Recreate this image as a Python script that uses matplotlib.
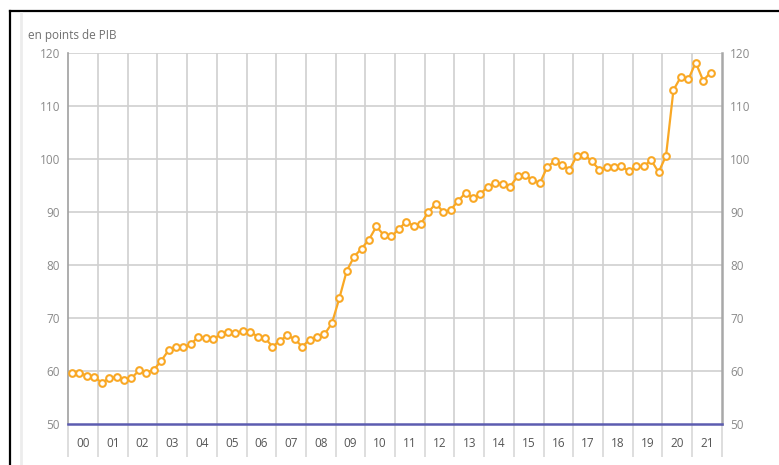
import numpy as np
import matplotlib
matplotlib.use("Agg")
import matplotlib.pyplot as plt
from matplotlib.ticker import FixedLocator

plt.rcParams["font.family"] = ["Open Sans", "DejaVu Sans"]

# ratio trimestriel, 2000T1 -> 2021T3
dette = [
    59.6, 59.6, 59.1, 58.9,
    57.8, 58.6, 58.9, 58.3,
    58.6, 60.1, 59.7, 60.2,
    61.9, 63.9, 64.6, 64.6,
    65.0, 66.5, 66.2, 66.0,
    66.9, 67.4, 67.1, 67.6,
    67.4, 66.5, 66.2, 64.6,
    65.7, 66.7, 66.0, 64.6,
    65.9, 66.5, 66.9, 69.0,
    73.7, 78.9, 81.6, 83.1,
    84.8, 87.3, 85.6, 85.4,
    86.7, 88.2, 87.4, 87.8,
    90.0, 91.6, 90.0, 90.4,
    92.1, 93.6, 92.7, 93.4,
    94.8, 95.5, 95.3, 94.8,
    96.7, 96.9, 96.1, 95.4,
    98.5, 99.6, 98.9, 98.0,
    100.6, 100.8, 99.6, 98.0,
    98.4, 98.4, 98.6, 97.7,
    98.6, 98.6, 99.8, 97.5,
    100.6, 113.0, 115.5, 115.0,
    118.2, 114.8, 116.3,
]
annees = ["00", "01", "02", "03", "04", "05", "06", "07", "08", "09", "10",
          "11", "12", "13", "14", "15", "16", "17", "18", "19", "20", "21"]
yticks = [50, 60, 70, 80, 90, 100, 110, 120]

fig = plt.figure(figsize=(7.79, 4.65), dpi=100)
ax = fig.add_axes([68.3 / 779, 1 - 424 / 465, (721.7 - 68.3) / 779, (424 - 53) / 465])

x = np.arange(len(dette)) + 0.5
ax.plot(x, dette, color="#f9a825", lw=1.6, marker="o", ms=4.8,
        mfc="white", mec="#f9a825", mew=1.5, zorder=4)

nq = 4 * len(annees)
ax.set_xlim(0, nq)
ax.set_ylim(50, 120)

# grille
bounds = np.arange(0, nq + 1, 4)
for b in bounds[1:-1]:
    ax.axvline(b, color="#d0d0d0", lw=1.2, zorder=1)
for v in yticks[1:]:
    ax.axhline(v, color="#d0d0d0", lw=1.2, zorder=1)

ax.xaxis.set_major_locator(FixedLocator(bounds[:-1] + 2))
ax.set_xticklabels(annees)
ax.xaxis.set_minor_locator(FixedLocator(bounds))
ax.tick_params(axis="x", which="major", length=0, pad=9, labelsize=8.5, labelcolor="#555555")
ax.tick_params(axis="x", which="minor", length=24, width=1.2, color="#d8d8d8")

ax.set_yticks(yticks)
ax.tick_params(axis="y", length=0, labelsize=8.5, labelcolor="#8a8a8a", pad=6,
               labelleft=True, labelright=True)

for s in ["top"]:
    ax.spines[s].set_visible(False)
ax.spines["left"].set_color("#a0a0a0")
ax.spines["left"].set_linewidth(1.2)
ax.spines["right"].set_color("#a8a8a8")
ax.spines["right"].set_linewidth(1.8)
ax.spines["bottom"].set_color("#5c5cb0")
ax.spines["bottom"].set_linewidth(1.8)
ax.spines["bottom"].set_zorder(5)

fig.text(28 / 779, 1 - 36 / 465, "en points de PIB", fontsize=8.5,
         color="#707070", va="center", ha="left")

# cadre
fig.add_artist(plt.Line2D([10 / 779, 1], [1 - 11.5 / 465] * 2, color="black", lw=1.6))
fig.add_artist(plt.Line2D([10 / 779] * 2, [0, 1 - 11.5 / 465], color="black", lw=1.6))
fig.add_artist(plt.Line2D([21 / 779] * 2, [0, 1 - 13 / 465], color="#ececec", lw=2))

fig.savefig("out.png", dpi=100)
